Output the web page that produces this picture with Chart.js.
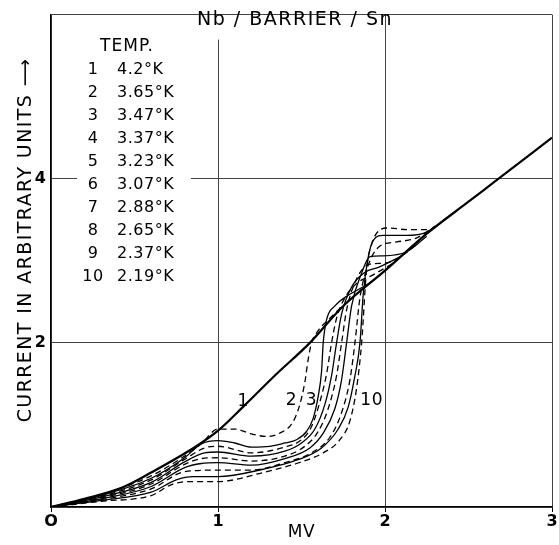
<!DOCTYPE html>
<html>
<head>
<meta charset="utf-8">
<script src="https://cdn.jsdelivr.net/npm/chart.js@4"></script>
<style>
  html, body { margin: 0; padding: 0; background: #fff; }
  #wrap { width: 559px; height: 545px; }
</style>
</head>
<body>
<div id="wrap"><canvas id="grafico" width="559" height="545"></canvas></div>
<script>
// curvas I-V (mV, corrente em unidades arbitrarias)
const mv1  = [0, 0.2, 0.43, 0.6, 0.87, 1.0, 1.15, 1.35, 1.55, 1.75, 2.0, 2.25, 2.5, 2.68, 3.0];
const cur1 = [0, 0.1, 0.24, 0.42, 0.74, 0.93, 1.22, 1.62, 2.0, 2.45, 2.88, 3.33, 3.72, 4.0, 4.5];

const mv2  = [0, 0.3, 0.6, 0.8, 0.9, 1.0, 1.1, 1.2, 1.29, 1.37, 1.45, 1.49, 1.52, 1.54, 1.56, 1.6, 1.66, 1.75];
const cur2 = [0, 0.15, 0.38, 0.62, 0.77, 0.95, 0.95, 0.89, 0.86, 0.9, 1.04, 1.25, 1.52, 1.8, 2.0, 2.15, 2.28, 2.46];

const mv3  = [0, 0.3, 0.6, 0.8, 0.9, 1.0, 1.1, 1.2, 1.31, 1.4, 1.47, 1.53, 1.57, 1.6, 1.62, 1.63, 1.65, 1.7, 1.78, 1.9, 2.0];
const cur3 = [0, 0.14, 0.35, 0.6, 0.77, 0.81, 0.78, 0.73, 0.74, 0.78, 0.82, 0.92, 1.08, 1.35, 1.65, 2.0, 2.28, 2.45, 2.58, 2.72, 2.88];

const mv4  = [0, 0.3, 0.6, 0.8, 0.92, 1.0, 1.2, 1.4, 1.5, 1.56, 1.61, 1.65, 1.68, 1.71, 1.76, 1.84, 1.92, 2.05];
const cur4 = [0, 0.13, 0.33, 0.58, 0.72, 0.74, 0.66, 0.73, 0.82, 0.98, 1.28, 1.62, 2.0, 2.3, 2.55, 2.74, 2.82, 2.97];

const mv5  = [0, 0.3, 0.6, 0.8, 0.92, 1.0, 1.2, 1.4, 1.5, 1.58, 1.64, 1.68, 1.71, 1.74, 1.8, 1.88, 1.96, 2.1];
const cur5 = [0, 0.12, 0.3, 0.55, 0.66, 0.67, 0.62, 0.68, 0.78, 0.95, 1.25, 1.6, 2.0, 2.35, 2.68, 2.86, 2.92, 3.06];

const mv6  = [0, 0.3, 0.6, 0.8, 0.9, 1.0, 1.2, 1.4, 1.52, 1.6, 1.66, 1.71, 1.74, 1.77, 1.83, 1.91, 1.99, 2.07, 2.2];
const cur6 = [0, 0.11, 0.28, 0.52, 0.59, 0.6, 0.56, 0.62, 0.74, 0.92, 1.2, 1.6, 2.0, 2.4, 2.78, 2.96, 2.97, 3.02, 3.22];

const mv7  = [0, 0.3, 0.6, 0.8, 0.9, 1.0, 1.2, 1.4, 1.55, 1.63, 1.7, 1.74, 1.77, 1.8, 1.86, 1.91, 1.99, 2.13, 2.25];
const cur7 = [0, 0.1, 0.25, 0.48, 0.53, 0.54, 0.51, 0.59, 0.72, 0.9, 1.2, 1.55, 2.0, 2.45, 2.85, 3.05, 3.06, 3.11, 3.3];

const mv8  = [0, 0.3, 0.6, 0.8, 1.0, 1.2, 1.4, 1.55, 1.67, 1.74, 1.79, 1.82, 1.85, 1.9, 1.97, 2.07, 2.19, 2.3];
const cur8 = [0, 0.09, 0.22, 0.43, 0.45, 0.45, 0.54, 0.65, 0.85, 1.15, 1.55, 2.0, 2.55, 2.95, 3.18, 3.23, 3.28, 3.42];

const mv9  = [0, 0.3, 0.6, 0.75, 0.85, 1.0, 1.27, 1.47, 1.62, 1.72, 1.78, 1.82, 1.85, 1.87, 1.9, 1.93, 1.99, 2.13, 2.25, 2.3];
const cur9 = [0, 0.08, 0.18, 0.33, 0.37, 0.37, 0.46, 0.57, 0.72, 0.95, 1.22, 1.6, 2.0, 2.6, 3.05, 3.25, 3.31, 3.31, 3.35, 3.42];

const mv10  = [0, 0.3, 0.6, 0.73, 0.85, 1.0, 1.27, 1.47, 1.63, 1.73, 1.79, 1.83, 1.86, 1.89, 1.92, 1.96, 2.02, 2.13, 2.27, 2.3];
const cur10 = [0, 0.07, 0.14, 0.28, 0.31, 0.31, 0.42, 0.53, 0.66, 0.82, 1.05, 1.45, 2.0, 2.9, 3.2, 3.36, 3.4, 3.38, 3.38, 3.42];

// legenda
const numCurvas = ['1', '2', '3', '4', '5', '6', '7', '8', '9', '10'];
const temps = ['4.2°K', '3.65°K', '3.47°K', '3.37°K', '3.23°K', '3.07°K', '2.88°K', '2.65°K', '2.37°K', '2.19°K'];

// eixos
const xTicks = [0, 1, 2, 3];
const yTicks = [2, 4];

const todasX = [mv1, mv2, mv3, mv4, mv5, mv6, mv7, mv8, mv9, mv10];
const todasY = [cur1, cur2, cur3, cur4, cur5, cur6, cur7, cur8, cur9, cur10];

const fonte = '"DejaVu Sans", sans-serif';

// monta os datasets: 1 grossa, depois tracejada / continua alternando
const datasets = todasX.map((xs, i) => ({
    label: numCurvas[i],
    data: xs.map((v, j) => ({ x: v, y: todasY[i][j] })),
    borderColor: '#000',
    borderWidth: i === 0 ? 2.2 : 1.3,
    borderDash: (i % 2 === 1) ? [6, 4] : [],
    pointRadius: 0,
    fill: false,
    cubicInterpolationMode: 'monotone'
}));

// textos dentro do grafico
const notas = {
    id: 'notas',
    beforeDatasetsDraw(chart) {
        const { ctx, chartArea: a, scales: { x, y } } = chart;
        ctx.save();

        // fundo branco atras da legenda e do titulo (esconde a grade)
        ctx.fillStyle = '#fff';
        ctx.fillRect(a.left + 26, 33, 114, 258);
        ctx.fillRect(195, a.top + 1, 185, 24);

        ctx.fillStyle = '#000';
        ctx.textBaseline = 'middle';

        ctx.font = '19px ' + fonte;
        ctx.letterSpacing = '1.5px';
        ctx.textAlign = 'center';
        ctx.fillText('Nb / BARRIER / Sn', 295, 20);

        ctx.font = '17px ' + fonte;
        ctx.letterSpacing = '1px';
        ctx.fillText('TEMP.', 127, 47);

        ctx.font = '16px ' + fonte;
        ctx.letterSpacing = '0.5px';
        for (let i = 0; i < temps.length; i++) {
            const py = 70 + i * 23;
            ctx.textAlign = 'center';
            ctx.fillText(numCurvas[i], 93, py);
            ctx.textAlign = 'left';
            ctx.fillText(temps[i], 117, py);
        }

        // rotulos das curvas
        ctx.font = '17px ' + fonte;
        ctx.textAlign = 'center';
        ctx.fillText('1', x.getPixelForValue(1.15), y.getPixelForValue(1.29));
        ctx.fillText('2', x.getPixelForValue(1.44), y.getPixelForValue(1.3));
        ctx.fillText('3', x.getPixelForValue(1.56), y.getPixelForValue(1.3));
        ctx.fillText('10', x.getPixelForValue(1.92), y.getPixelForValue(1.3));

        // titulo do eixo x
        ctx.font = '17px ' + fonte;
        ctx.fillText('MV', (a.left + a.right) / 2, 533);

        // titulo do eixo y
        ctx.translate(26, 240);
        ctx.rotate(-Math.PI / 2);
        ctx.font = '19px ' + fonte;
        ctx.letterSpacing = '1.4px';
        ctx.fillText('CURRENT IN ARBITRARY UNITS \u27F6', 0, 0);

        ctx.restore();
    }
};

new Chart(document.getElementById('grafico'), {
    type: 'line',
    data: { datasets: datasets },
    options: {
        responsive: false,
        animation: false,
        events: [],
        layout: { padding: { top: 9, right: 7, left: 0, bottom: 0 } },
        plugins: { legend: { display: false }, tooltip: { enabled: false } },
        scales: {
            x: {
                type: 'linear',
                min: 0,
                max: 3,
                afterBuildTicks: s => { s.ticks = xTicks.map(v => ({ value: v })); },
                afterFit: s => { s.height = 38; },
                grid: { color: '#444', lineWidth: 1, tickLength: 5, tickColor: '#000' },
                border: { color: '#000', width: 1.3 },
                ticks: {
                    color: '#000',
                    padding: 0,
                    maxRotation: 0,
                    font: { family: fonte, size: 16, weight: 'bold' },
                    callback: v => v === 0 ? 'O' : String(v)
                }
            },
            y: {
                type: 'linear',
                min: 0,
                max: 6,
                afterBuildTicks: s => { s.ticks = [0, 2, 4, 6].map(v => ({ value: v })); },
                afterFit: s => { s.width = 51; },
                grid: { color: '#444', lineWidth: 1, drawTicks: false },
                border: { color: '#000', width: 1.3 },
                ticks: {
                    color: '#000',
                    padding: 5,
                    font: { family: fonte, size: 16, weight: 'bold' },
                    callback: v => yTicks.includes(v) ? String(v) : ''
                }
            }
        }
    },
    plugins: [notas]
});
</script>
</body>
</html>
